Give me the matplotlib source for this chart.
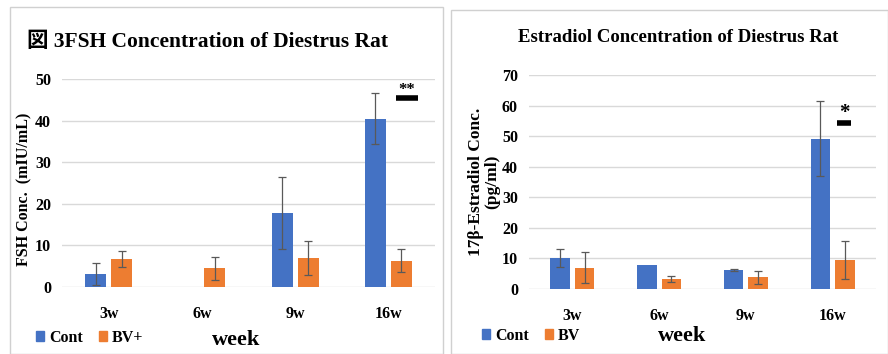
import matplotlib.pyplot as plt
from matplotlib.patches import Rectangle
import numpy as np

weeks = ["3w", "6w", "9w", "16w"]

# FSH (mIU/mL)
fsh_cont = [3.2, 0, 17.8, 40.5]
fsh_cont_err = [2.6, 0, 8.7, 6.1]
fsh_bv = [6.8, 4.5, 7.0, 6.3]
fsh_bv_err = [1.9, 2.7, 4.0, 2.8]

# estradiol (pg/ml)
e2_cont = [10.2, 7.9, 6.1, 49.2]
e2_cont_err = [3.0, 0, 0.3, 12.2]
e2_bv = [7.0, 3.2, 3.8, 9.4]
e2_bv_err = [5.0, 0.9, 2.2, 6.2]

blue = "#4472C4"
orange = "#ED7D31"
serif = ["Liberation Serif", "Noto Sans CJK JP", "DejaVu Serif"]

fig = plt.figure(figsize=(8.88, 3.54), dpi=100)
W, H = 888, 354

def box(x0, y0, x1, y1):
    # pixel coords (top-left origin) -> figure fraction
    return [x0 / W, 1 - y1 / H, (x1 - x0) / W, (y1 - y0) / H]

# panel borders
fig.patches.append(Rectangle((10 / W, 0), 433 / W, 1 - 7 / H, transform=fig.transFigure,
                             fill=False, edgecolor="#d0d0d0", lw=1))
fig.patches.append(Rectangle((451 / W, 0), 437 / W, 1 - 10 / H, transform=fig.transFigure,
                             fill=False, edgecolor="#d0d0d0", lw=1))


def draw(ax, cont, cerr, bv, berr, ymax, step):
    x = np.arange(len(weeks))
    w = 0.225
    ekw = dict(ecolor="#595959", elinewidth=0.9, capsize=3, capthick=0.9)
    ax.bar(x - 0.14, cont, w, color=blue, yerr=[c if c else np.nan for c in cerr],
           error_kw=ekw, zorder=3)
    ax.bar(x + 0.14, bv, w, color=orange, yerr=berr, error_kw=ekw, zorder=3)
    ax.set_xlim(-0.5, len(weeks) - 0.5)
    ax.set_ylim(0, ymax)
    ax.set_yticks(np.arange(0, ymax + 1, step))
    ax.set_xticks(x)
    ax.set_xticklabels(weeks)
    ax.yaxis.grid(True, color="#d9d9d9", lw=1)
    ax.set_axisbelow(True)
    for s in ax.spines.values():
        s.set_visible(False)
    ax.tick_params(length=0, pad=14)
    ax.tick_params(axis="y", pad=8)
    for lab in ax.get_xticklabels() + ax.get_yticklabels():
        lab.set_family(serif)
        lab.set_fontweight("bold")
        lab.set_fontsize(11.5)


# left panel
ax1 = fig.add_axes(box(62, 79, 435, 287))
draw(ax1, fsh_cont, fsh_cont_err, fsh_bv, fsh_bv_err, 50, 10)
ax1.set_ylabel("FSH Conc.  (mIU/mL)", family=serif, fontweight="bold", fontsize=11.5)
ax1.yaxis.set_label_coords(-0.08, 0.47)
fig.text(27 / W, 1 - 42 / H, "図 3FSH Concentration of Diestrus Rat", family=serif,
         fontweight="bold", fontsize=15.5, va="center", ha="left")
ax1.plot([3.08, 3.32], [45.5, 45.5], color="black", lw=4, solid_capstyle="butt")
ax1.text(3.2, 47.3, "**", ha="center", va="center", fontsize=12, fontweight="bold", family=serif)
fig.text(236 / W, 1 - 340 / H, "week", family=serif, fontweight="bold", fontsize=16,
         ha="center", va="center")
h1 = [Rectangle((0, 0), 1, 1, color=blue), Rectangle((0, 0), 1, 1, color=orange)]
fig.legend(h1, ["Cont", "BV+"], loc="center left", bbox_to_anchor=(22 / W, 1 - 338 / H),
           ncol=2, frameon=False, handlelength=0.5, handleheight=0.6, handletextpad=0.3,
           columnspacing=1.0, prop=dict(family=serif, weight="bold", size=11.5))

# right panel
ax2 = fig.add_axes(box(529, 75, 876, 289))
draw(ax2, e2_cont, e2_cont_err, e2_bv, e2_bv_err, 70, 10)
ax2.set_ylabel("17β-Estradiol Conc.\n(pg/ml)", family=serif, fontweight="bold", fontsize=12.5,
               linespacing=1.0)
ax2.yaxis.set_label_coords(-0.084, 0.5)
fig.text(678 / W, 1 - 38 / H, "Estradiol Concentration of Diestrus Rat", family=serif,
         fontweight="bold", fontsize=13.5, va="center", ha="center")
ax2.plot([3.05, 3.21], [54.3, 54.3], color="black", lw=4, solid_capstyle="butt")
ax2.text(3.13, 57.5, "*", ha="center", va="center", fontsize=15, fontweight="bold", family=serif)
fig.text(682 / W, 1 - 336 / H, "week", family=serif, fontweight="bold", fontsize=16,
         ha="center", va="center")
fig.legend(h1, ["Cont", "BV"], loc="center left", bbox_to_anchor=(468 / W, 1 - 336 / H),
           ncol=2, frameon=False, handlelength=0.5, handleheight=0.6, handletextpad=0.3,
           columnspacing=1.0, prop=dict(family=serif, weight="bold", size=11.5))

fig.savefig("out.png", dpi=100)
